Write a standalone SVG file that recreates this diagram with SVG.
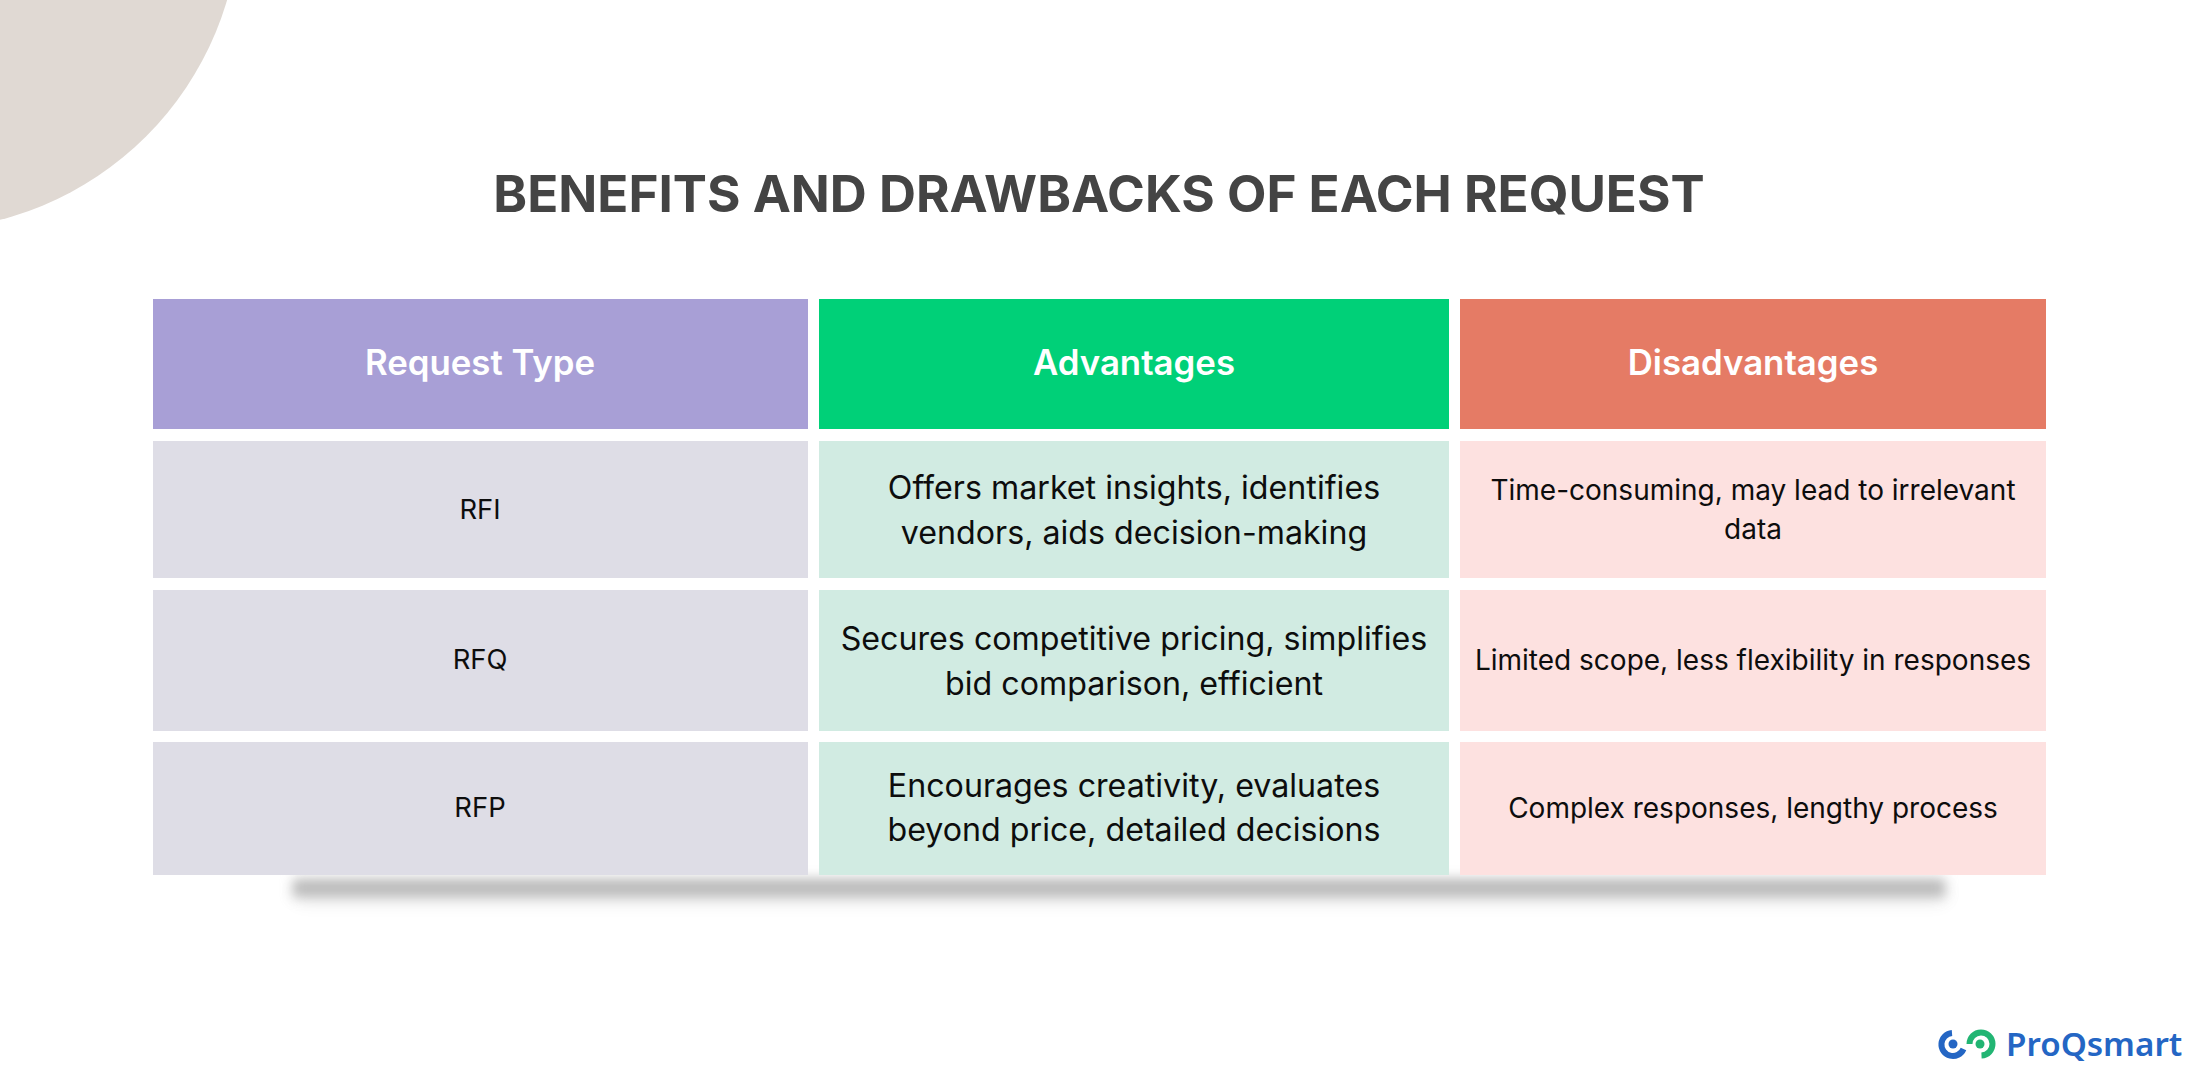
<svg xmlns="http://www.w3.org/2000/svg" width="2199" height="1080" viewBox="0 0 2199 1080">
<defs>
<style>
text{font-family:Inter,"Liberation Sans",sans-serif;text-anchor:middle}
.title{font-size:51.2px;font-weight:700;fill:#444444}
.head{font-size:34.8px;font-weight:600;fill:#ffffff}
.type{font-size:27.4px;fill:#0d0d0d}
.adv{font-size:32.2px;fill:#0d0d0d}
.dis{font-size:28px;fill:#0d0d0d}
.a{fill:#dedde6}.b{fill:#d1ebe2}.c{fill:#fde1e0}
.logo{font-family:"Noto Sans",Inter,sans-serif;font-size:33.200px;font-weight:600;fill:#2466c4;text-anchor:start}
</style>
<filter id="blur" x="-5%" y="-150%" width="110%" height="400%"><feGaussianBlur stdDeviation="6"/></filter>
<filter id="soft" x="-5%" y="-200%" width="110%" height="500%"><feGaussianBlur stdDeviation="10"/></filter>
</defs>
<rect width="2199" height="1080" fill="#ffffff"/>
<circle id="corner" cx="-80" cy="-90" r="320" fill="#e0d9d3"/>
<text id="title" class="title" x="1099" y="212">BENEFITS AND DRAWBACKS OF EACH REQUEST</text>
<rect x="296" y="886" width="1649" height="14" fill="#000000" opacity="0.1" filter="url(#soft)"/>
<rect id="shadow" x="293" y="879" width="1652" height="18" fill="#bcbcbc" filter="url(#blur)"/>
<g id="h1"><rect x="153" y="299" width="655" height="130" fill="#a89fd6"/><text class="head" x="480" y="375">Request Type</text></g>
<g id="h2"><rect x="819" y="299" width="630" height="130" fill="#00d078"/><text class="head" x="1134" y="375">Advantages</text></g>
<g id="h3"><rect x="1460" y="299" width="586" height="130" fill="#e57b65"/><text class="head" x="1753" y="375">Disadvantages</text></g>
<g id="r1a"><rect class="a" x="153" y="441" width="655" height="137"/><text class="type" x="480" y="519">RFI</text></g>
<g id="r1b"><rect class="b" x="819" y="441" width="630" height="137"/><text class="adv" x="1134" y="499">Offers market insights, identifies</text><text class="adv" x="1134" y="544">vendors, aids decision-making</text></g>
<g id="r1c"><rect class="c" x="1460" y="441" width="586" height="137"/><text class="dis" x="1753" y="500">Time-consuming, may lead to irrelevant</text><text class="dis" x="1753" y="539">data</text></g>
<g id="r2a"><rect class="a" x="153" y="590" width="655" height="141"/><text class="type" x="480" y="669">RFQ</text></g>
<g id="r2b"><rect class="b" x="819" y="590" width="630" height="141"/><text class="adv" x="1134" y="650">Secures competitive pricing, simplifies</text><text class="adv" x="1134" y="695">bid comparison, efficient</text></g>
<g id="r2c"><rect class="c" x="1460" y="590" width="586" height="141"/><text class="dis" x="1753" y="670">Limited scope, less flexibility in responses</text></g>
<g id="r3a"><rect class="a" x="153" y="742" width="655" height="133"/><text class="type" x="480" y="817">RFP</text></g>
<g id="r3b"><rect class="b" x="819" y="742" width="630" height="133"/><text class="adv" x="1134" y="797">Encourages creativity, evaluates</text><text class="adv" x="1134" y="841">beyond price, detailed decisions</text></g>
<g id="r3c"><rect class="c" x="1460" y="742" width="586" height="133"/><text class="dis" x="1753" y="818">Complex responses, lengthy process</text></g>
<g id="logo">
<path d="M1952 1033A11.500 11.500 0 1 0 1963.500 1049" fill="none" stroke="#2466c4" stroke-width="6"/>
<circle cx="1953" cy="1044" r="4.500" fill="#2466c4"/>
<path d="M1969.500 1044A11.500 11.500 0 1 1 1981.500 1055.500" fill="none" stroke="#22b573" stroke-width="6"/>
<circle cx="1980" cy="1044" r="4.500" fill="#22b573"/>
<text class="logo" x="2006" y="1056">ProQsmart</text>
</g>
</svg>
